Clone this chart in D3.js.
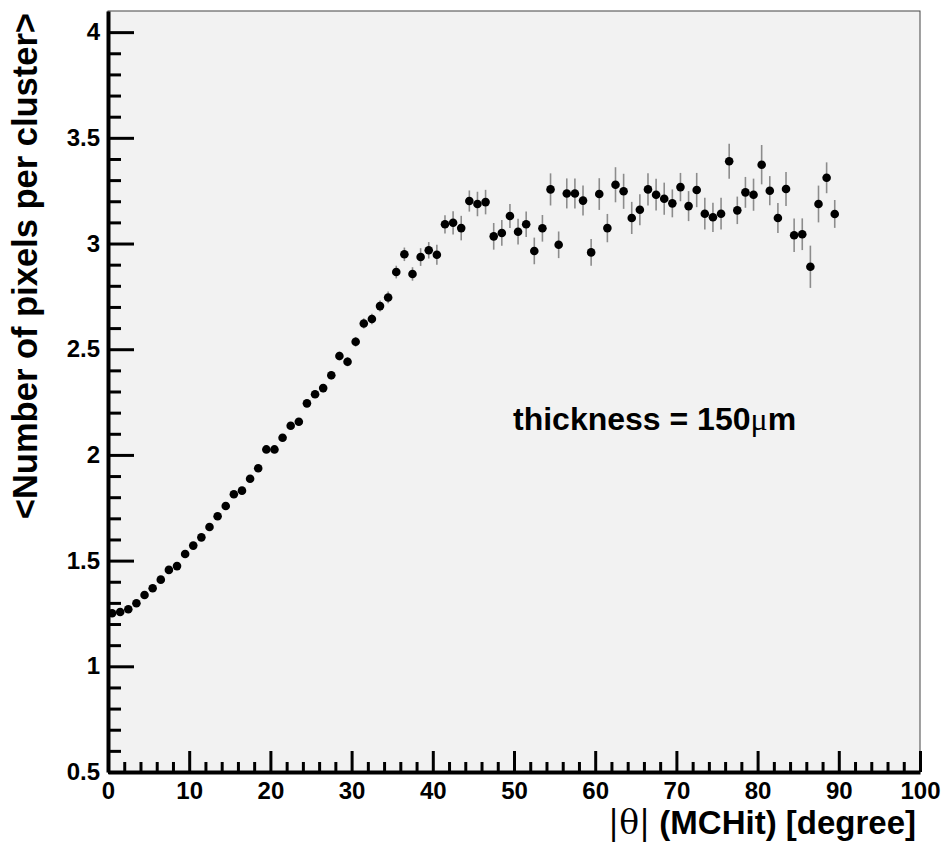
<!DOCTYPE html>
<html>
<head>
<meta charset="utf-8">
<script src="https://d3js.org/d3.v7.min.js"></script>
<style>
  body { margin: 0; background: #fff; }
  text { font-family: "Liberation Sans", Arial, sans-serif; font-weight: bold; fill: #000; }
</style>
</head>
<body>
<svg id="chart" width="942" height="844"></svg>
<script>
// bin centres of |theta| (degree)
const theta = [0.5, 1.5, 2.5, 3.5, 4.5, 5.5, 6.5, 7.5, 8.5, 9.5,
  10.5, 11.5, 12.5, 13.5, 14.5, 15.5, 16.5, 17.5, 18.5, 19.5,
  20.5, 21.5, 22.5, 23.5, 24.5, 25.5, 26.5, 27.5, 28.5, 29.5,
  30.5, 31.5, 32.5, 33.5, 34.5, 35.5, 36.5, 37.5, 38.5, 39.5,
  40.5, 41.5, 42.5, 43.5, 44.5, 45.5, 46.5, 47.5, 48.5, 49.5,
  50.5, 51.5, 52.5, 53.5, 54.5, 55.5, 56.5, 57.5, 58.5, 59.5,
  60.5, 61.5, 62.5, 63.5, 64.5, 65.5, 66.5, 67.5, 68.5, 69.5,
  70.5, 71.5, 72.5, 73.5, 74.5, 75.5, 76.5, 77.5, 78.5, 79.5,
  80.5, 81.5, 82.5, 83.5, 84.5, 85.5, 86.5, 87.5, 88.5, 89.5];

// <Number of pixels per cluster>
const meanPixels = [1.251, 1.257, 1.270, 1.298, 1.337, 1.369, 1.410, 1.456, 1.474, 1.531,
  1.571, 1.610, 1.659, 1.710, 1.758, 1.814, 1.831, 1.887, 1.937, 2.026,
  2.026, 2.081, 2.138, 2.157, 2.244, 2.287, 2.316, 2.377, 2.468, 2.441,
  2.535, 2.622, 2.643, 2.704, 2.745, 2.865, 2.949, 2.856, 2.936, 2.968,
  2.947, 3.091, 3.098, 3.073, 3.201, 3.187, 3.196, 3.034, 3.050, 3.130,
  3.056, 3.091, 2.965, 3.072, 3.256, 2.994, 3.237, 3.237, 3.203, 2.958,
  3.234, 3.073, 3.278, 3.247, 3.121, 3.160, 3.256, 3.231, 3.212, 3.190,
  3.267, 3.177, 3.253, 3.141, 3.124, 3.141, 3.389, 3.157, 3.242, 3.231,
  3.373, 3.250, 3.121, 3.258, 3.039, 3.044, 2.890, 3.187, 3.311, 3.140];

// error on the mean
const meanErr = [0.006, 0.006, 0.006, 0.006, 0.007, 0.007, 0.007, 0.008, 0.008, 0.008,
  0.009, 0.009, 0.010, 0.010, 0.010, 0.011, 0.011, 0.012, 0.012, 0.013,
  0.014, 0.014, 0.015, 0.016, 0.017, 0.018, 0.019, 0.020, 0.021, 0.022,
  0.023, 0.024, 0.025, 0.026, 0.028, 0.030, 0.032, 0.032, 0.042, 0.039,
  0.047, 0.043, 0.055, 0.058, 0.050, 0.058, 0.058, 0.063, 0.061, 0.057,
  0.061, 0.060, 0.063, 0.063, 0.076, 0.063, 0.071, 0.071, 0.071, 0.063,
  0.075, 0.067, 0.083, 0.083, 0.076, 0.073, 0.076, 0.075, 0.076, 0.066,
  0.067, 0.071, 0.081, 0.075, 0.069, 0.075, 0.083, 0.065, 0.073, 0.076,
  0.093, 0.069, 0.071, 0.080, 0.079, 0.075, 0.100, 0.087, 0.073, 0.066];

const xMajor = [0, 10, 20, 30, 40, 50, 60, 70, 80, 90, 100];
const yMajor = [0.5, 1, 1.5, 2, 2.5, 3, 3.5, 4];

const data = theta.map((t, i) => ({ t: t, v: meanPixels[i], e: meanErr[i] }));

const plotLeft = 108, plotRight = 920, plotTop = 11, plotBottom = 772;

const svg = d3.select("#chart");

const x = d3.scaleLinear().domain([0, 100]).range([plotLeft, plotRight]);
const y = d3.scaleLinear().domain([0.5, 4.1]).range([plotBottom, plotTop]);

// minor ticks
const xMinor = d3.range(0, 101, 2).filter(d => d % 10 !== 0);
const yMinor = d3.range(5, 41).map(d => d / 10).filter(d => Math.round(d * 10) % 5 !== 0);

// frame
svg.append("rect")
  .attr("x", plotLeft).attr("y", plotTop)
  .attr("width", plotRight - plotLeft).attr("height", plotBottom - plotTop)
  .attr("fill", "#f2f2f2")
  .attr("stroke", "#444")
  .attr("stroke-width", 1);

// error bars
svg.append("g")
  .selectAll("line")
  .data(data)
  .join("line")
    .attr("x1", d => x(d.t)).attr("x2", d => x(d.t))
    .attr("y1", d => y(d.v - d.e)).attr("y2", d => y(d.v + d.e))
    .attr("stroke", "#8c8c8c")
    .attr("stroke-width", 1.6);

// markers
svg.append("g")
  .selectAll("circle")
  .data(data)
  .join("circle")
    .attr("cx", d => x(d.t))
    .attr("cy", d => y(d.v))
    .attr("r", 4.3)
    .attr("fill", "#000");

// axes
function styleAxis(g) {
  g.selectAll(".tick line").attr("stroke", "#000").attr("stroke-width", 3);
  g.select(".domain").attr("stroke", "#000").attr("stroke-width", 4);
  g.selectAll("text").attr("font-size", 24).attr("font-family", "Liberation Sans, Arial, sans-serif")
    .attr("font-weight", "bold").attr("fill", "#000");
}

svg.append("g")
  .attr("transform", `translate(0,${plotBottom})`)
  .call(d3.axisBottom(x).tickValues(xMinor).tickSize(-10).tickSizeOuter(0).tickFormat(""))
  .call(g => g.select(".domain").remove())
  .call(styleAxis);

svg.append("g")
  .attr("transform", `translate(0,${plotBottom})`)
  .call(d3.axisBottom(x).tickValues(xMajor).tickSize(-21).tickSizeOuter(0).tickPadding(10).tickFormat(d3.format("d")))
  .call(styleAxis);

svg.append("g")
  .attr("transform", `translate(${plotLeft},0)`)
  .call(d3.axisLeft(y).tickValues(yMinor).tickSize(-13).tickSizeOuter(0).tickFormat(""))
  .call(g => g.select(".domain").remove())
  .call(styleAxis);

svg.append("g")
  .attr("transform", `translate(${plotLeft},0)`)
  .call(d3.axisLeft(y).tickValues(yMajor).tickSize(-26).tickSizeOuter(0).tickPadding(8).tickFormat(d => String(d)))
  .call(styleAxis);

// axis titles
const xTitle = svg.append("text")
  .attr("x", 916).attr("y", 834)
  .attr("text-anchor", "end")
  .attr("font-size", 33);
xTitle.append("tspan").attr("font-weight", "normal").attr("font-family", "DejaVu Serif, serif").text("|θ|");
xTitle.append("tspan").text(" (MCHit) [degree]");

svg.append("text")
  .attr("transform", "translate(37,13) rotate(-90)")
  .attr("text-anchor", "end")
  .attr("font-size", 34.5)
  .text("<Number of pixels per cluster>");

// annotation
const note = svg.append("text")
  .attr("x", 513).attr("y", 430)
  .attr("font-size", 32);
note.append("tspan").text("thickness = 150");
note.append("tspan").attr("font-weight", "normal").attr("font-family", "Liberation Serif, serif").text("μ");
note.append("tspan").text("m");
</script>
</body>
</html>
